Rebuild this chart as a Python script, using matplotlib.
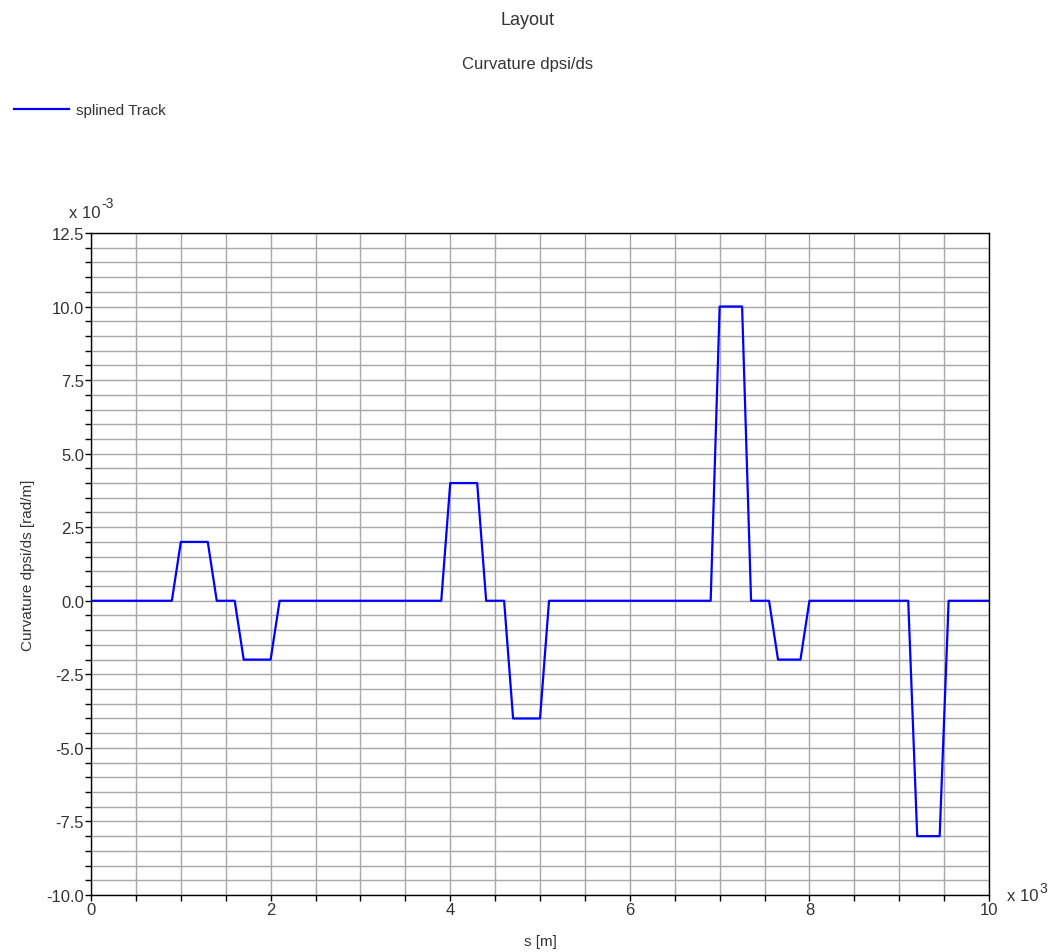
import matplotlib.pyplot as plt
from matplotlib.ticker import MultipleLocator, FormatStrFormatter

plt.rcParams['font.family'] = ['Liberation Sans', 'DejaVu Sans']
plt.rcParams['axes.unicode_minus'] = False

# track breakpoints, s in 10^3 m, curvature in 10^-3 rad/m
s_km = [0.0, 0.9, 1.0, 1.3, 1.4, 1.6, 1.7, 2.0, 2.1,
        3.9, 4.0, 4.3, 4.4, 4.6, 4.7, 5.0, 5.1,
        6.9, 7.0, 7.25, 7.35, 7.55, 7.65, 7.9, 8.0,
        9.1, 9.2, 9.45, 9.55, 10.0]
kappa = [0.0, 0.0, 2.0, 2.0, 0.0, 0.0, -2.0, -2.0, 0.0,
         0.0, 4.0, 4.0, 0.0, 0.0, -4.0, -4.0, 0.0,
         0.0, 10.0, 10.0, 0.0, 0.0, -2.0, -2.0, 0.0,
         0.0, -8.0, -8.0, 0.0, 0.0]

txt = '#333333'

fig = plt.figure(figsize=(10.56, 9.53), dpi=100)
ax = fig.add_axes([0.0862, 0.0598, 0.8504, 0.6947])

ax.plot(s_km, kappa, color='#0000ff', lw=1.6, label='splined Track')

ax.set_xlim(0, 10)
ax.set_ylim(-10, 12.5)
ax.xaxis.set_major_locator(MultipleLocator(2))
ax.xaxis.set_minor_locator(MultipleLocator(0.5))
ax.yaxis.set_major_locator(MultipleLocator(2.5))
ax.yaxis.set_minor_locator(MultipleLocator(0.5))
ax.yaxis.set_major_formatter(FormatStrFormatter('%.1f'))
ax.xaxis.set_major_formatter(FormatStrFormatter('%g'))
ax.grid(which='both', color='#a8a8a8', lw=1.0)
ax.set_axisbelow(True)
ax.tick_params(which='both', direction='out', length=4, width=1,
               labelsize=12, labelcolor=txt, pad=1)
for sp in ax.spines.values():
    sp.set_color('black')
    sp.set_linewidth(1.0)

ax.set_xlabel('s [m]', fontsize=11, color=txt, labelpad=12)
ax.set_ylabel('Curvature dpsi/ds [rad/m]', fontsize=11, color=txt, labelpad=8)

# exponent labels
ax.annotate('x 10', (-0.025, 1.02), xycoords='axes fraction', fontsize=12,
            color=txt, ha='left', va='bottom')
ax.annotate('-3', (-0.025, 1.02), xycoords='axes fraction',
            xytext=(23.5, 7), textcoords='offset points', fontsize=10,
            color=txt, ha='left', va='bottom')
ax.annotate('x 10', (1.02, 0.0), xycoords='axes fraction', fontsize=12,
            color=txt, ha='left', va='center')
ax.annotate('3', (1.02, 0.0), xycoords='axes fraction',
            xytext=(23.5, 5), textcoords='offset points', fontsize=10,
            color=txt, ha='left', va='center')

fig.text(0.5, 0.979, 'Layout', fontsize=13, color=txt, ha='center', va='center')
fig.text(0.5, 0.932, 'Curvature dpsi/ds', fontsize=12, color=txt,
         ha='center', va='center')

fig.legend(loc='upper left', bbox_to_anchor=(0.0, 0.905), frameon=False,
           fontsize=11, handlelength=3.6, handletextpad=0.5,
           labelcolor=txt)

fig.savefig('out.png', dpi=100)
